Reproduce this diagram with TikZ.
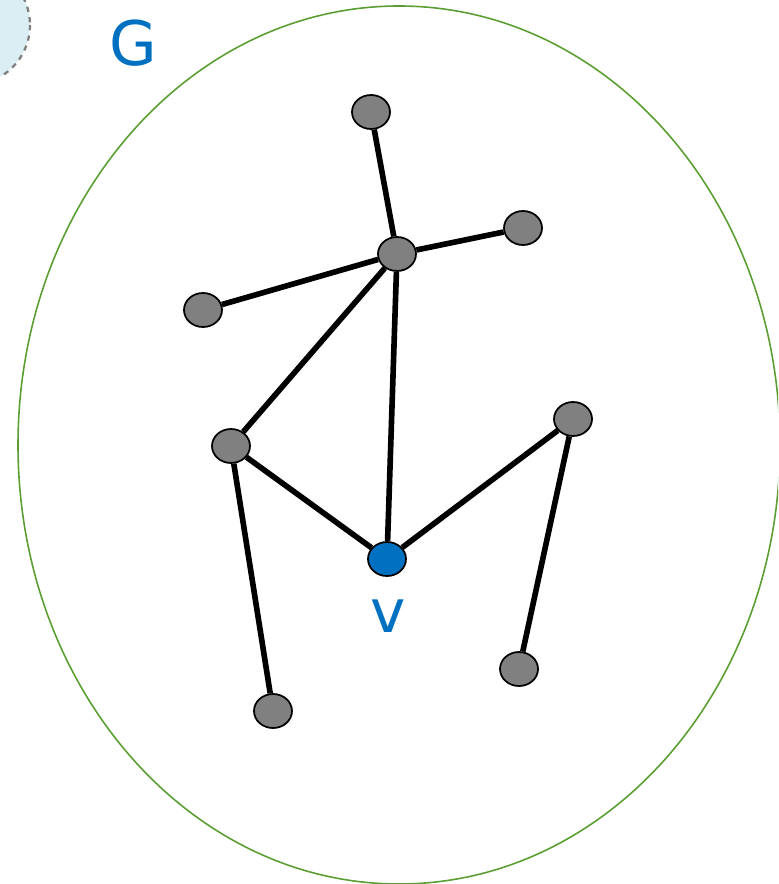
\documentclass[tikz,border=0pt]{standalone}
\usepackage{fontspec}
\setsansfont{DejaVu Sans}
\usetikzlibrary{shapes.geometric}
\definecolor{gblue}{HTML}{0070C0}
\definecolor{ggreen}{HTML}{5A9E32}
\definecolor{gcyan}{HTML}{DAEEF3}

\begin{document}
\begin{tikzpicture}[
  x=0.02cm, y=-0.02cm,
  every node/.style={font=\sffamily},
  vertex/.style={draw, ellipse, fill=gray, line width=1pt, minimum width=0.76cm, minimum height=0.68cm, inner sep=0pt},
  edge/.style={line width=3.2pt}
]
\useasboundingbox (0,0) rectangle (778,884);
\clip (0,0) rectangle (778,884);

\fill[gcyan] (-30,25) circle (60);
\draw[gray, dashed, line width=1.3pt] (-30,25) circle (60);
\draw[ggreen, line width=0.9pt] (399,445) ellipse (381 and 439);

\node[text=gblue, font=\sffamily\fontsize{35}{40}\selectfont] (glabel) at (133,43) {G};

\node[vertex] (top) at (371,112) {};
\node[vertex] (hub) at (397,254) {};
\node[vertex] (right) at (523,228) {};
\node[vertex] (left) at (203,310) {};
\node[vertex] (mid) at (231,446) {};
\node[vertex] (far) at (573,419) {};
\node[vertex] (low) at (273,711) {};
\node[vertex] (lowr) at (519,669) {};
\node[vertex, fill=gblue] (v) at (387,559) {};
\node[text=gblue, font=\sffamily\fontsize{34}{40}\selectfont] (vlabel) at (388,616) {v};

\draw[edge] (top) -- (hub);
\draw[edge] (hub) -- (right);
\draw[edge] (hub) -- (left);
\draw[edge] (hub) -- (mid);
\draw[edge] (hub) -- (v);
\draw[edge] (mid) -- (v);
\draw[edge] (mid) -- (low);
\draw[edge] (v) -- (far);
\draw[edge] (far) -- (lowr);
\end{tikzpicture}
\end{document}
